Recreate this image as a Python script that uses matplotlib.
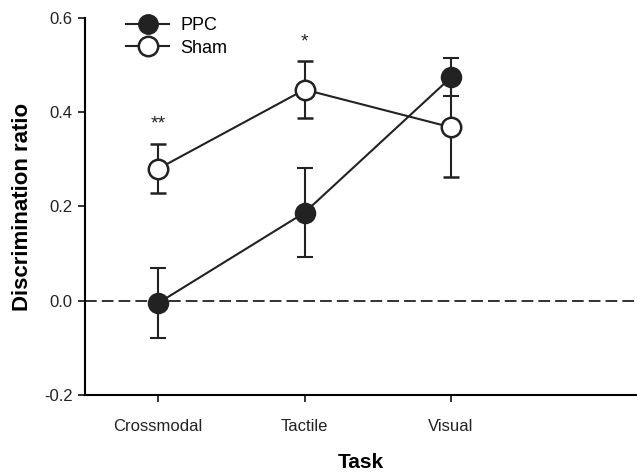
import numpy as np
import matplotlib.pyplot as plt
from matplotlib.lines import Line2D

plt.rcParams['font.family'] = ['Liberation Sans', 'DejaVu Sans']

# datos
tasks = ['Crossmodal', 'Tactile', 'Visual']
ppc_mean = [-0.005, 0.187, 0.474]
ppc_err = [0.075, 0.094, 0.040]
sham_mean = [0.280, 0.448, 0.368]
sham_err = [0.052, 0.061, 0.106]
stars = ['**', '*', '']
star_y = [0.376, 0.549, 0]

x = np.arange(1, len(tasks) + 1)
ink = '#222222'

fig = plt.figure(figsize=(6.37, 4.73), dpi=100)
ax = fig.add_axes([0.1334, 0.165, 0.8666, 0.797])

ax.axhline(0, color=ink, linestyle=(0, (6.5, 2.8)), linewidth=1.3, zorder=1)

ax.errorbar(x, ppc_mean, yerr=ppc_err, color=ink, marker='o', markersize=14,
            markerfacecolor=ink, markeredgecolor=ink, markeredgewidth=1.5,
            linewidth=1.5, capsize=6, capthick=1.5, elinewidth=1.5, zorder=3)
ax.errorbar(x, sham_mean, yerr=sham_err, color=ink, marker='o', markersize=14,
            markerfacecolor='white', markeredgecolor=ink, markeredgewidth=1.8,
            linewidth=1.5, capsize=6, capthick=1.5, elinewidth=1.5, zorder=4)

for xi, s, sy in zip(x, stars, star_y):
    if s:
        ax.text(xi, sy, s, ha='center', va='center', fontsize=14, color=ink)

ax.set_xlim(0.5, 4.27)
ax.set_ylim(-0.2, 0.6)
ax.set_xticks(x)
ax.set_xticklabels(tasks, fontsize=12)
ax.set_yticks([-0.2, 0.0, 0.2, 0.4, 0.6])
ax.set_yticklabels(['-0.2', '0.0', '0.2', '0.4', '0.6'], fontsize=12)
ax.tick_params(direction='out', length=5, width=1.3, colors=ink)
ax.tick_params(axis='x', pad=12)
ax.tick_params(axis='y', pad=4)

ax.spines['top'].set_visible(False)
ax.spines['right'].set_visible(False)
ax.spines['left'].set_linewidth(1.5)
ax.spines['bottom'].set_linewidth(1.5)

ax.set_xlabel('Task', fontsize=15, fontweight='bold', labelpad=14)
ax.set_ylabel('Discrimination ratio', fontsize=16, fontweight='bold', labelpad=8)

handles = [
    Line2D([], [], color=ink, marker='o', markersize=14, markerfacecolor=ink,
           markeredgecolor=ink, linewidth=1.5),
    Line2D([], [], color=ink, marker='o', markersize=14, markerfacecolor='white',
           markeredgecolor=ink, markeredgewidth=1.8, linewidth=1.5),
]
ax.legend(handles, ['PPC', 'Sham'], loc='upper left', bbox_to_anchor=(0.045, 1.045),
          frameon=False, fontsize=13, handlelength=2.4, handletextpad=0.6, labelspacing=0.3)

plt.savefig('out.png', dpi=100)
